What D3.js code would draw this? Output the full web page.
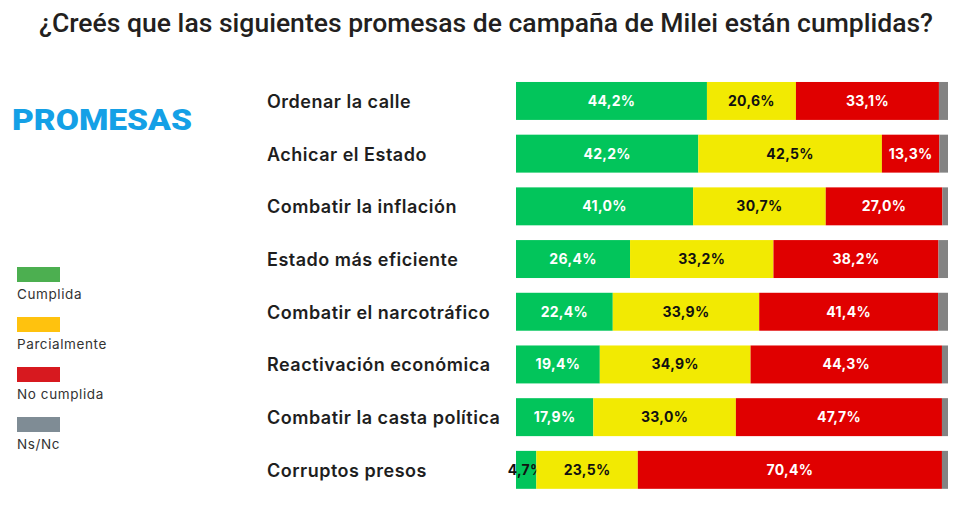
<!DOCTYPE html>
<html><head><meta charset="utf-8">
<script src="https://cdn.jsdelivr.net/npm/d3@7"></script>
<style>body{margin:0;background:#fff}svg{display:block}</style>
</head><body>
<svg id="c" width="970" height="519"></svg>
<script>
const categories = ["Ordenar la calle","Achicar el Estado","Combatir la inflación","Estado más eficiente","Combatir el narcotráfico","Reactivación económica","Combatir la casta política","Corruptos presos"];
const cumplida     = [44.2, 42.2, 41.0, 26.4, 22.4, 19.4, 17.9, 4.7];
const parcialmente = [20.6, 42.5, 30.7, 33.2, 33.9, 34.9, 33.0, 23.5];
const noCumplida   = [33.1, 13.3, 27.0, 38.2, 41.4, 44.3, 47.7, 70.4];
const nsnc         = [2.1, 2.0, 1.3, 2.2, 2.3, 1.4, 1.4, 1.4];
const seriesNames = ["Cumplida","Parcialmente","No cumplida","Ns/Nc"];
const seriesKeys = ["c","p","n","x"];
const barColors = ["#02C55B","#F2EA02","#E00000","#838383"];
const legendColors = ["#4CAF50","#FFC20E","#D7191F","#7F8C95"];
const labelColors = ["#ffffff","#111111","#ffffff",null];

const svg = d3.select("#c");
const data = categories.map((k,i)=>({cat:k,c:cumplida[i],p:parcialmente[i],n:noCumplida[i],x:nsnc[i]}));

const x = d3.scaleLinear().domain([0,100]).range([516,948]);
const y = d3.scaleBand().domain(categories).range([74.6,496.2]).paddingInner(0.28).paddingOuter(0.14);

svg.append("text").attr("x",486).attr("y",32).attr("text-anchor","middle")
  .attr("font-family","Roboto").attr("font-weight",500).attr("font-size",25)
  .attr("fill","#231f20").attr("textLength",894).attr("lengthAdjust","spacingAndGlyphs")
  .text("¿Creés que las siguientes promesas de campaña de Milei están cumplidas?");

svg.append("text").attr("x",12).attr("y",130)
  .attr("font-family","Roboto").attr("font-weight",900).attr("font-size",30)
  .attr("fill","#14A0E6").attr("textLength",180).attr("lengthAdjust","spacingAndGlyphs")
  .text("PROMESAS");

const stack = d3.stack().keys(seriesKeys)(data);
stack.forEach((layer,si)=>{
  const g = svg.append("g");
  g.selectAll("rect").data(layer).join("rect")
    .attr("x",d=>x(d[0])).attr("width",d=>x(d[1])-x(d[0]))
    .attr("y",d=>y(d.data.cat)).attr("height",y.bandwidth())
    .attr("fill",barColors[si]);
  if(labelColors[si]){
    g.selectAll("text").data(layer).join("text")
      .attr("x",d=>(x(d[0])+x(d[1]))/2)
      .attr("y",d=>y(d.data.cat)+y.bandwidth()/2+5)
      .attr("text-anchor","middle")
      .attr("font-family","Inter").attr("font-weight",700).attr("font-size",14)
      .attr("letter-spacing",0.3)
      .attr("fill",d=>(x(d[1])-x(d[0])<40)?"#111":labelColors[si])
      .text(d=>(d[1]-d[0]).toFixed(1).replace(".",",")+"%");
  }
});

svg.append("g").selectAll("text").data(categories).join("text")
  .attr("x",267).attr("y",d=>y(d)+y.bandwidth()/2+7)
  .attr("font-family","Inter").attr("font-weight",600).attr("font-size",18)
  .attr("letter-spacing",0.5)
  .attr("fill","#1e1e1e").text(d=>d);

const lg = svg.append("g");
seriesNames.forEach((s,i)=>{
  lg.append("rect").attr("x",17).attr("y",267+i*50).attr("width",43).attr("height",15).attr("fill",legendColors[i]);
  lg.append("text").attr("x",17).attr("y",299+i*50)
    .attr("font-family","Inter").attr("font-size",13.5).attr("letter-spacing",0.6)
    .attr("fill","#333").text(s);
});
</script>
</body></html>
